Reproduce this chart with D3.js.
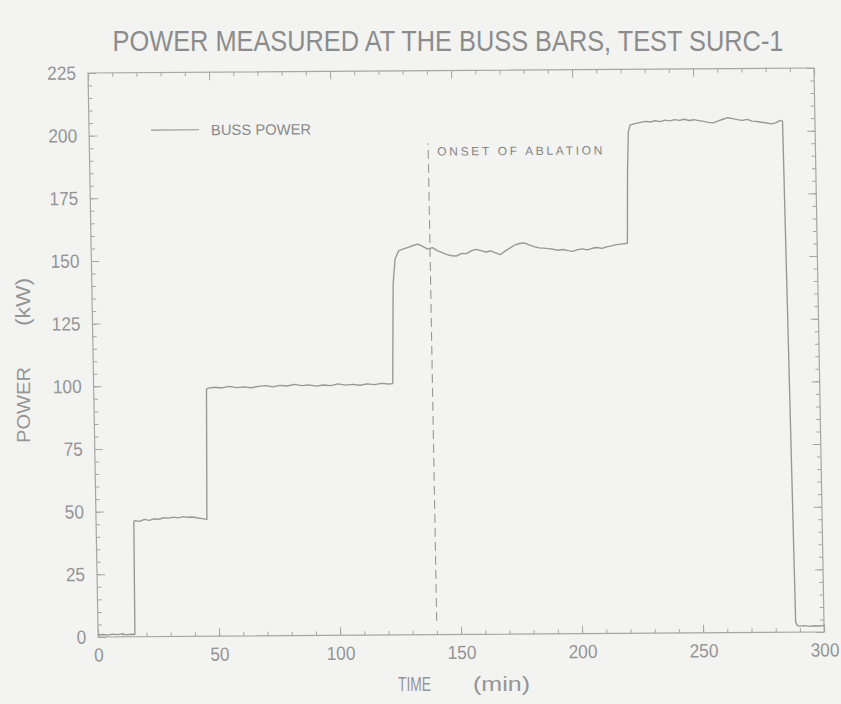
<!DOCTYPE html>
<html>
<head>
<meta charset="utf-8">
<script src="https://cdn.jsdelivr.net/npm/d3@7"></script>
<style>
  html, body { margin: 0; padding: 0; background: #f3f3f2; }
  svg { display: block; }
  text { font-family: "Liberation Sans", Arial, sans-serif; }
</style>
</head>
<body>
<svg id="chart" width="841" height="704"></svg>
<script>
// Buss power, test SURC-1: time (min) vs power (kW)
const timeMin = [
  0, 2, 4, 6, 8, 10, 12, 14, 15.2,
  15.6, 16.2, 18, 20, 22, 24, 26, 28, 30, 32, 34, 36, 38, 40, 42, 44, 45.8,
  46.6, 47.4, 50, 53, 56, 59, 62, 65, 68, 71, 74, 77, 80, 83, 86, 89, 92, 95, 98, 101, 104, 107, 110, 113, 116, 119, 122, 123.6,
  124.5, 125.5, 127, 129,
  131, 133, 135, 137, 139, 141, 143, 145, 147, 149,
  151, 153, 155, 157, 159, 161, 163, 165, 167, 169,
  171, 173, 175, 177, 179, 181, 183, 185, 187, 189,
  191, 193, 195, 197, 199, 201, 203, 205, 207, 209,
  211, 213, 215, 217, 219, 221.6,
  222.2, 222.8, 223.6,
  226, 228, 230, 232, 234, 236, 238, 240, 242, 244,
  246, 248, 250, 252, 254, 256, 258, 260, 262, 264,
  266, 268, 270, 272, 274, 276, 278, 280, 282, 284,
  285.6, 286.6,
  287.4, 288.3, 289, 290, 292, 294, 296, 298, 300
];
const powerKW = [
  0.8, 1.0, 0.7, 1.1, 0.9, 1.2, 0.8, 1.0, 0.9,
  46.0, 46.3, 46.0, 46.8, 46.4, 47.0, 46.8, 47.4, 47.2, 47.6, 47.3, 47.8, 47.5, 47.6, 47.2, 46.9, 46.6,
  98.6, 99.0, 99.3, 99.0, 99.6, 99.1, 99.4, 99.0, 99.5, 99.8, 99.3, 99.9, 99.6, 100.2, 99.7, 100.0, 99.5, 99.9, 99.6, 100.3, 99.8, 100.1, 99.7, 100.2, 99.9, 100.4, 100.1, 100.3,
  140, 150, 153.2, 154.0,
  154.6, 155.3, 155.8, 154.9, 153.8, 154.4, 153.2, 152.4, 151.6, 151.1,
  151.0, 152.0, 151.9, 153.0, 153.6, 153.1, 152.5, 152.9, 152.1, 151.4,
  152.8, 154.0, 155.2, 155.8, 156.0, 155.2, 154.5, 154.0, 153.9, 153.7,
  153.4, 153.0, 153.3, 152.8, 152.5, 153.2, 153.5, 153.1, 153.7, 154.0,
  153.6, 154.2, 154.6, 155.1, 155.3, 155.6,
  185, 200, 202.8,
  203.4, 203.8, 204.2, 203.9, 204.4, 204.0, 204.6, 204.3, 204.8, 204.5,
  204.9, 204.4, 204.7, 204.3, 204.0, 203.6, 203.4, 204.2, 204.8, 205.4,
  205.0, 204.6, 204.3, 204.7, 204.0, 203.8, 203.5, 203.2, 202.8, 203.3,
  204.2, 203.8,
  110, 4, 2.6, 2.4, 2.6, 2.3, 2.5, 2.4, 2.6
];
const xTickValues = [0, 50, 100, 150, 200, 250, 300];
const yTickValues = [0, 25, 50, 75, 100, 125, 150, 175, 200, 225];
const onsetTime = 140;
const onsetSpan = [5.5, 196];

const titleText = "POWER MEASURED AT THE BUSS BARS, TEST SURC-1";
const legendText = "BUSS POWER";
const onsetText = "ONSET OF ABLATION";

const W = 726, H = 564;
const ink = "#979797", frameInk = "#a6a6a6", textInk = "#959595";

const svg = d3.select("#chart");
svg.append("rect").attr("width", 841).attr("height", 704).attr("fill", "#f3f3f2");

// plot area (slightly skewed sheet)
const g = svg.append("g")
  .attr("transform", "matrix(1,-0.0069,0.018,1,88,73)");

const x = d3.scaleLinear().domain([0, 300]).range([0, W]);
const y = d3.scaleLinear().domain([0, 225]).range([H, 0]);

const minorX = d3.range(0, 301, 10);
const minorY = d3.range(0, 226, 5);

function styleAxis(sel) {
  sel.select(".domain").remove();
  sel.selectAll(".tick line").attr("stroke", frameInk).attr("stroke-width", 1);
}

// minor ticks on all sides
g.append("g").attr("transform", `translate(0,${H})`)
  .call(d3.axisBottom(x).tickValues(minorX).tickSize(-4).tickFormat(""))
  .call(styleAxis);
g.append("g")
  .call(d3.axisTop(x).tickValues(minorX).tickSize(-4).tickFormat(""))
  .call(styleAxis);
g.append("g")
  .call(d3.axisLeft(y).tickValues(minorY).tickSize(-4).tickFormat(""))
  .call(styleAxis);
g.append("g").attr("transform", `translate(${W},0)`)
  .call(d3.axisRight(y).tickValues(minorY).tickSize(-4).tickFormat(""))
  .call(styleAxis);

// major ticks with labels
const xAxis = g.append("g").attr("transform", `translate(0,${H})`)
  .call(d3.axisBottom(x).tickValues(xTickValues).tickSize(-8).tickPadding(11).tickFormat(d3.format("d")))
  .call(styleAxis);
g.append("g")
  .call(d3.axisTop(x).tickValues(xTickValues).tickSize(-8).tickFormat(""))
  .call(styleAxis);
const yAxis = g.append("g")
  .call(d3.axisLeft(y).tickValues(yTickValues).tickSize(-8).tickPadding(12).tickFormat(d3.format("d")))
  .call(styleAxis);
g.append("g").attr("transform", `translate(${W},0)`)
  .call(d3.axisRight(y).tickValues(yTickValues).tickSize(-8).tickFormat(""))
  .call(styleAxis);

[xAxis, yAxis].forEach(a => a.selectAll(".tick text")
  .attr("fill", textInk)
  .attr("font-size", 19)
  .attr("font-family", "'Liberation Sans', Arial, sans-serif")
  .attr("textLength", function () { return this.textContent.length * 9.6; })
  .attr("lengthAdjust", "spacingAndGlyphs"));

// frame
g.append("rect").attr("x", 0).attr("y", 0).attr("width", W).attr("height", H)
  .attr("fill", "none").attr("stroke", frameInk).attr("stroke-width", 1.2);

// onset of ablation marker
g.append("line")
  .attr("x1", x(onsetTime)).attr("x2", x(onsetTime))
  .attr("y1", y(onsetSpan[0])).attr("y2", y(onsetSpan[1]))
  .attr("stroke", ink).attr("stroke-width", 1.1)
  .attr("stroke-dasharray", "9,5");
g.append("text")
  .attr("x", x(onsetTime) + 9).attr("y", 85)
  .attr("fill", "#858585").attr("font-size", 12)
  .attr("textLength", 165).attr("lengthAdjust", "spacing")
  .text(onsetText);

// power trace
const series = timeMin.map((t, i) => [t, powerKW[i]]);
g.append("path")
  .datum(series)
  .attr("fill", "none")
  .attr("stroke", ink)
  .attr("stroke-width", 1.35)
  .attr("stroke-linejoin", "round")
  .attr("d", d3.line().x(d => x(d[0])).y(d => y(d[1])));

// legend
g.append("line").attr("x1", 62).attr("x2", 110).attr("y1", 57.5).attr("y2", 57.5)
  .attr("stroke", ink).attr("stroke-width", 1.2);
g.append("text").attr("x", 122).attr("y", 63)
  .attr("fill", "#8a8a8a").attr("font-size", 15)
  .attr("textLength", 100).attr("lengthAdjust", "spacingAndGlyphs")
  .text(legendText);

// title, horizontally condensed
svg.append("text")
  .attr("transform", "translate(448,51) scale(0.845,1)")
  .attr("text-anchor", "middle")
  .attr("fill", "#8c8c8c").attr("font-size", 30)
  .text(titleText);

// axis titles
svg.append("text").attr("x", 398).attr("y", 691)
  .attr("fill", textInk).attr("font-size", 20)
  .attr("textLength", 33).attr("lengthAdjust", "spacingAndGlyphs")
  .text("TIME");
svg.append("text").attr("x", 473).attr("y", 691)
  .attr("fill", textInk).attr("font-size", 21)
  .attr("textLength", 57).attr("lengthAdjust", "spacingAndGlyphs")
  .text("(min)");

const yTitle = svg.append("g").attr("transform", "translate(30,0) rotate(-90)");
yTitle.append("text").attr("x", -443).attr("y", 0)
  .attr("fill", textInk).attr("font-size", 19)
  .attr("textLength", 76).attr("lengthAdjust", "spacingAndGlyphs")
  .text("POWER");
yTitle.append("text").attr("x", -326).attr("y", 0)
  .attr("fill", textInk).attr("font-size", 21)
  .attr("textLength", 48).attr("lengthAdjust", "spacingAndGlyphs")
  .text("(kW)");
</script>
</body>
</html>
